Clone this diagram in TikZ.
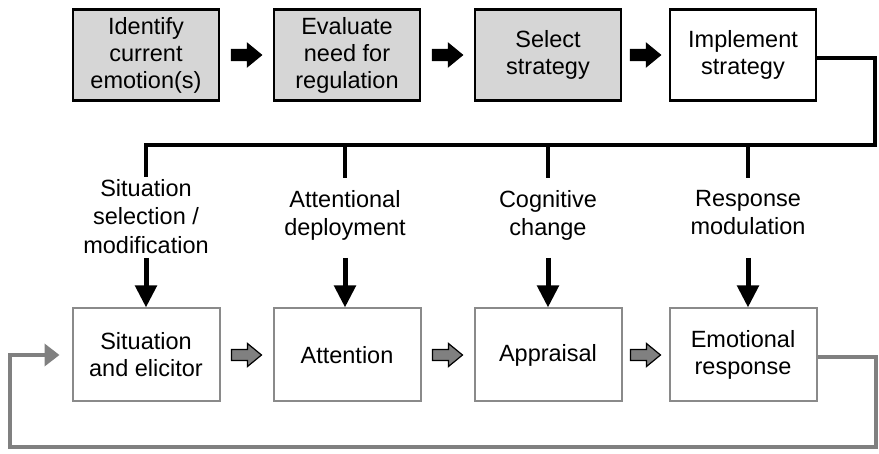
\documentclass[tikz,border=0pt]{standalone}
\usepackage{fontspec}
\setmainfont{Liberation Sans}
\usetikzlibrary{arrows.meta,calc}
\definecolor{boxgray}{HTML}{D6D6D6}
\definecolor{loopgray}{HTML}{808080}
\definecolor{edgegray}{HTML}{8A8A8A}
\begin{document}
\begin{tikzpicture}[x=1pt,y=-1pt,
  txt/.style={font=\fontsize{23.5}{27}\selectfont, align=center},
  topbox/.style={txt, draw=black, line width=2.6pt, minimum width=146pt, minimum height=91pt, inner sep=0pt},
  shaded/.style={topbox, fill=boxgray},
  lowbox/.style={txt, draw=edgegray, line width=2pt, minimum width=147pt, minimum height=93pt, inner sep=0pt},
  lbl/.style={txt, inner sep=0pt, font=\fontsize{23.5}{28.5}\selectfont},
  bus/.style={line width=4.5pt, black},
  downarr/.style={line width=5pt, -{Triangle[length=22pt,width=21pt]}},
  fb/.style={line width=4pt, loopgray, -{Triangle[length=15pt,width=22pt]}},
  blockarrow/.pic={\draw[pic actions, line width=1.2pt, line join=miter]
    (-15,-5.5) -- (1,-5.5) -- (1,-11.5) -- (15,0) -- (1,11.5) -- (1,5.5) -- (-15,5.5) -- cycle;}
]
\useasboundingbox[fill=white] (0,0) rectangle (879,454);

% regulation stages (top row)
\node[shaded] (t1) at (146,55) {Identify\\current\\emotion(s)};
\node[shaded] (t2) at (347,55) {Evaluate\\need for\\regulation};
\node[shaded] (t3) at (548,55) {Select\\strategy};
\node[topbox] (t4) at (743,55) {Implement\\strategy};

% emotion generation stages (bottom row)
\node[lowbox] (b1) at (146,355) {Situation\\and elicitor};
\node[lowbox] (b2) at (347,355) {Attention};
\node[lowbox] (b3) at (548,355) {Appraisal};
\node[lowbox] (b4) at (743,355) {Emotional\\response};

% strategy families
\node[lbl, anchor=north] (l1) at (146,179) {Situation\\selection /\\modification};
\node[lbl, anchor=north] (l2) at (345,190) {Attentional\\deployment};
\node[lbl, anchor=north] (l3) at (548,190) {Cognitive\\change};
\node[lbl, anchor=north] (l4) at (748,190) {Response\\modulation};

% block arrows between stages
\foreach \a/\b in {t1/t2,t2/t3,t3/t4}
  \pic[fill=black, draw=black] at ($(\a.east)!0.5!(\b.west)$) {blockarrow};
\foreach \a/\b in {b1/b2,b2/b3,b3/b4}
  \pic[fill=loopgray, draw=black] at ($(\a.east)!0.5!(\b.west)$) {blockarrow};

% strategy bus
\coordinate (busR) at (875,145);
\draw[bus] ([yshift=-3pt]t4.east) -| (busR) -- (busR -| l1.north) -- ([yshift=2pt]l1.north);
\foreach \n in {l2,l3,l4}
  \draw[bus] (busR -| \n.north) -- ([yshift=12pt]\n.north);

% strategies acting on stages
\foreach \n/\m in {l1/b1,l2/b2,l3/b3,l4/b4}
  \draw[downarr] (\n.south |- 0,258) -- (\n.south |- \m.north);

% feedback loop
\coordinate (loopR) at (876,447);
\coordinate (loopL) at (10,447);
\draw[fb, line join=miter] ([yshift=-2pt]b4.east) -| (loopR) -- (loopL) |- ([xshift=-12pt]b1.west);
\end{tikzpicture}
\end{document}
